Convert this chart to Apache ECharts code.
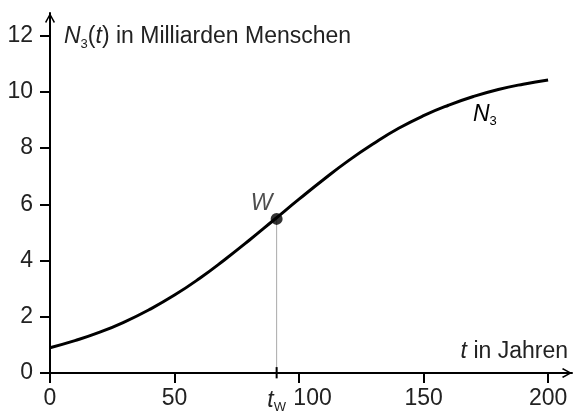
<!DOCTYPE html>
<html><head><meta charset="utf-8">
<script src="https://cdn.jsdelivr.net/npm/echarts@6/dist/echarts.min.js"></script>
<style>html,body{margin:0;padding:0;background:#fff}#c{width:573px;height:414px}</style>
</head><body><div id="c"></div>
<script>
const years = [0,10,20,30,40,50,60,70,80,90,100,110,120,130,140,150,160,170,180,190,200];
const population = [0.9,1.15,1.45,1.82,2.26,2.77,3.36,4.02,4.72,5.45,6.18,6.89,7.56,8.16,8.7,9.15,9.52,9.83,10.08,10.27,10.42];
const xTicks = [0,50,100,150,200];
const yTicks = [0,2,4,6,8,10,12];
const tW = 91;
const nW = 5.48;
const FONT = 'Liberation Sans';
const TXT = '#222';
const FS = 23;

const chart = echarts.init(document.getElementById('c'));
const arrow = 'path://M0,9 L5,0 L10,9 L8.8,10 L5,3 L1.2,10 Z';
const richBase = {
  n: {fontSize: FS, color: TXT, fontFamily: FONT},
  i: {fontSize: FS, color: TXT, fontFamily: FONT, fontStyle: 'italic'},
  s: {fontSize: 13, color: TXT, fontFamily: FONT, padding: [14,0,0,0]},
  p: {fontSize: FS, color: TXT, fontFamily: FONT, padding: [0,0,0,27]}
};
chart.setOption({
  animation: false,
  grid: {left: 50, right: 1, top: 13, bottom: 38.5, containLabel: false},
  xAxis: {
    type: 'value', min: 0, max: 209.6,
    axisLine: {show: true, symbol: ['none', arrow], symbolSize: [14, 10], symbolOffset: [0, -5], lineStyle: {color: '#000', width: 2}},
    axisTick: {show: true, customValues: xTicks, length: 10, lineStyle: {color: '#000', width: 2}},
    axisLabel: {customValues: xTicks.concat([tW]), margin: 14, fontSize: FS, color: TXT, fontFamily: FONT,
      formatter: v => v === tW ? '{i|t}{s|W}' : (v === 100 ? '{p|100}' : '{n|' + v + '}'), rich: richBase},
    splitLine: {show: false},
    name: '{i|t}{n| in Jahren}', nameLocation: 'end', nameGap: -4,
    nameTextStyle: {align: 'right', verticalAlign: 'bottom', padding: [0, 0, 10, 0], rich: richBase}
  },
  yAxis: {
    type: 'value', min: 0, max: 12.8,
    axisLine: {show: true, symbol: ['none', arrow], symbolSize: [14, 10], symbolOffset: [0, -5], lineStyle: {color: '#000', width: 2}},
    axisTick: {show: true, customValues: yTicks, length: 10, lineStyle: {color: '#000', width: 2}},
    axisLabel: {customValues: yTicks, margin: 17, fontSize: FS, color: TXT, fontFamily: FONT},
    splitLine: {show: false},
    name: '{i|N}{s|3}{n|(}{i|t}{n|) in Milliarden Menschen}', nameLocation: 'end', nameGap: -24,
    nameTextStyle: {align: 'left', verticalAlign: 'middle', padding: [0, 0, 0, 14], rich: richBase}
  },
  series: [
    {type: 'line', data: [[tW, 0], [tW, nW]], symbol: 'none', lineStyle: {color: '#aaa', width: 1}, silent: true, z: 1},
    {type: 'line', data: [[tW, -0.19], [tW, 0.21]], symbol: 'none', clip: false, lineStyle: {color: '#000', width: 2}, silent: true, z: 4},
    {type: 'line', data: years.map((t, k) => [t, population[k]]), smooth: true, symbol: 'none',
      lineStyle: {color: '#000', width: 3}, z: 2},
    {type: 'scatter', data: [[tW, nW]], symbolSize: 12, itemStyle: {color: '#000'}, z: 3,
      label: {show: true, position: 'top', offset: [-15, 7], formatter: '{i|W}', rich: richBase}}
  ],
  graphic: [
    {type: 'text', left: 473, top: 103, style: {text: '{i|N}{s|3}', rich: richBase}}
  ]
});
</script></body></html>
